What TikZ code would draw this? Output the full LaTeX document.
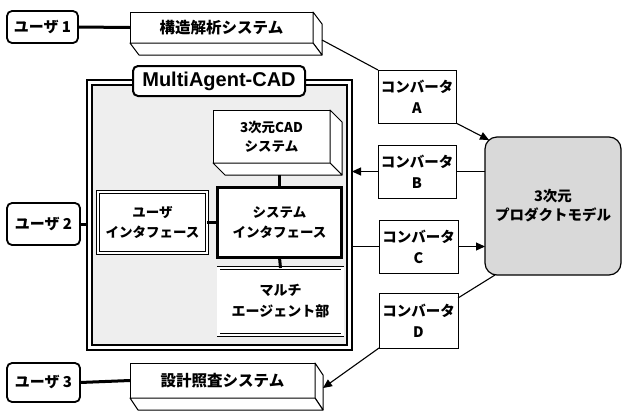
\documentclass[tikz,border=0pt]{standalone}
\usepackage{fontspec}
\setmainfont{Noto Sans CJK JP}
\newfontfamily\latinfont{Liberation Sans}
\usetikzlibrary{arrows.meta,calc}
\newcommand\drawdepth[3]{%
  \draw[depthface] (#1.north east) -- ++(#2,#3) -- ($(#1.south east)+(#2,#3)$) -- (#1.south east) -- cycle;
  \draw[depthface] (#1.south west) -- ++(#2,#3) -- ($(#1.south east)+(#2,#3)$) -- (#1.south east) -- cycle;}
\begin{document}
\begin{tikzpicture}[x=1pt,y=-1pt,
  box/.style={inner sep=0pt, outer sep=0pt, align=center, font=\bfseries\fontsize{14}{20}\selectfont},
  userbox/.style={box, draw, line width=1.8pt, rounded corners=5pt, fill=white, font=\bfseries\fontsize{15}{20}\selectfont},
  conv/.style={box, draw, line width=1pt, fill=white, minimum width=78pt, minimum height=53pt, font=\bfseries\fontsize{14.5}{21}\selectfont},
  face/.style={box, draw, line width=1pt, fill=white},
  depthface/.style={draw, line width=1pt, fill=white, line join=round},
  thickline/.style={line width=3pt},
  thinline/.style={line width=1.1pt},
  arr/.style={thinline, -{Triangle[length=9pt,width=8pt]}},
]
\useasboundingbox (0,0) rectangle (623,413);

% MultiAgent-CAD frame
\node[box, draw, line width=2.8pt, fill=white, minimum width=265pt, minimum height=270pt] (frame) at (219.5,215) {};
\node[box, draw, line width=1.6pt, fill=gray!13, minimum width=255pt, minimum height=260pt] (inner) at (219.5,215) {};
\node[box, draw, line width=2pt, rounded corners=5pt, fill=white, minimum width=172pt, minimum height=30pt,
      font=\latinfont\bfseries\fontsize{20}{24}\selectfont] (title) at (219,81) {MultiAgent-CAD};

% users
\node[userbox, minimum width=71pt, minimum height=32pt] (u1) at (42.5,27) {ユーザ~1};
\node[userbox, minimum width=73pt, minimum height=42pt] (u2) at (43.5,224) {ユーザ~2};
\node[userbox, minimum width=73pt, minimum height=39pt] (u3) at (43.5,382.5) {ユーザ~3};

% 3D boxes
\node[face, minimum width=183pt, minimum height=31pt, font=\bfseries\fontsize{15.5}{20}\selectfont] (s1) at (221.5,27.5) {構造解析システム};
\drawdepth{s1}{9}{12}
\node[face, minimum width=185pt, minimum height=35pt, font=\bfseries\fontsize{15.5}{20}\selectfont] (s3) at (222.5,380.5) {設計照査システム};
\drawdepth{s3}{8}{12}
\node[face, minimum width=117pt, minimum height=53pt, font=\bfseries\fontsize{13.5}{19}\selectfont] (cad) at (271.5,136.5) {3次元CAD\\システム};
\drawdepth{cad}{12}{12}

% inner boxes
\node[box, draw, line width=1.2pt, double, double distance=1.5pt, fill=white, minimum width=109pt, minimum height=61pt,
      font=\bfseries\fontsize{13.5}{20}\selectfont] (ui) at (152.5,222.5) {ユーザ\\インタフェース};
\node[box, draw, line width=2.5pt, fill=white, minimum width=124pt, minimum height=70pt,
      font=\bfseries\fontsize{13.5}{20}\selectfont] (si) at (279.5,222.5) {システム\\インタフェース};
\node[box, draw, line width=0.7pt, double, double distance=2.5pt, fill=white, minimum width=124pt, minimum height=67pt,
      font=\bfseries\fontsize{14}{21}\selectfont] (ma) at (280.5,301.5) {マルチ\\エージェント部};

% converters
\node[conv] (ca) at (417,96.5) {コンバータ\\A};
\node[conv] (cb) at (417,171.5) {コンバータ\\B};
\node[conv, minimum width=79pt] (cc) at (418.5,246.5) {コンバータ\\C};
\node[conv, minimum width=79pt, minimum height=55pt] (cd) at (418.5,320.5) {コンバータ\\D};

% product model
\node[box, draw, line width=1.2pt, rounded corners=12pt, fill=gray!30, minimum width=136pt, minimum height=138pt,
      font=\bfseries\fontsize{14.5}{19}\selectfont] (pm) at (553,206) {3次元\\プロダクトモデル};

% connectors
\draw[thickline] (u1.east) -- (s1.west);
\draw[thickline] (u2.east) -- (u2.east -| frame.west);
\draw[thickline] (u3.east) -- (s3.west);
\draw[thickline] (si.north) -- ++(0,-12.5);
\draw[thickline] (ui.east) -- (si.west);
\draw[thickline] (si.south) -- (ma.north);

\coordinate (s1r) at ($(s1.east)+(9,12.5)$);
\draw[thinline] (s1r) -- (ca.north west);
\draw[arr] (ca.south east) -- ($(pm.north west)+(4,3)$);
\draw[thinline] (cb.east -| pm.west) -- (cb.east);
\draw[arr] (cb.west) -- (cb.west -| frame.east);
\draw[thinline] (cc.west -| frame.east) -- (cc.west);
\draw[arr] (cc.east) -- (cc.east -| pm.west);
\coordinate (pmd) at ($(pm.south west)+(10,0)$);
\draw[thinline] (pmd) -- ($(cd.north east)+(0,5)$);
\draw[arr] (cd.south west) -- ($(s3.east)+(8,7.5)$);
\end{tikzpicture}
\end{document}
